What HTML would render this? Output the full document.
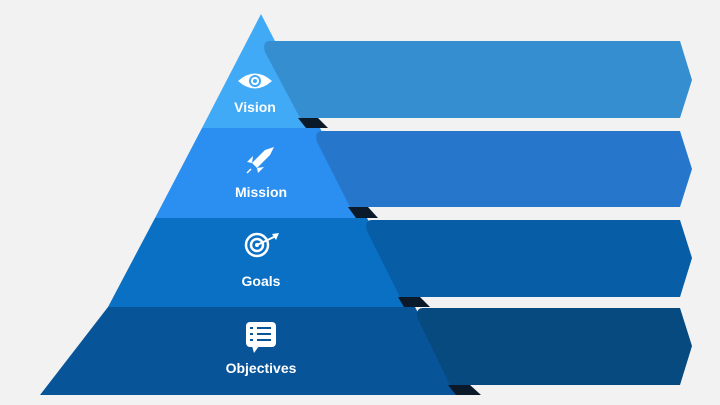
<!DOCTYPE html>
<html><head><style>
body{margin:0;background:#f2f2f2;}
svg{display:block}
text{font-family:"Liberation Sans",sans-serif;font-weight:bold;fill:#fff;font-size:14px;text-anchor:middle}
</style></head><body>
<svg width="720" height="405" viewBox="0 0 720 405">
<rect width="720" height="405" fill="#f2f2f2"/>
<!-- pyramid layers -->
<polygon points="261,14 202,128 320,128" fill="#41aaf7"/>
<polygon points="202,128 320,128 367,218 155,218" fill="#2a8ff0"/>
<polygon points="155,218 367,218 415,307 108,307" fill="#0a70c4"/>
<polygon points="108,307 415,307 462,395 40,395" fill="#075499"/>
<!-- folds -->
<polygon points="298,118 318,118 328,128 306,128" fill="#0a1a2a"/>
<polygon points="348,207 368,207 378,218 356,218" fill="#0a1a2a"/>
<polygon points="398,297 420,297 430,307 404,307" fill="#0a1a2a"/>
<polygon points="448,385 470,385 481,395 456,395" fill="#0a1a2a"/>
<!-- ribbons -->
<path d="M270,41 L680,41 L692,80 L680,118 L300,118 L265,52 Q262,41 270,41Z" fill="#348ecf"/>
<path d="M322,131 L680,131 L692,169 L680,207 L350,207 L317,142 Q314,131 322,131Z" fill="#2677cc"/>
<path d="M372,220 L680,220 L692,258 L680,297 L400,297 L367,231 Q364,220 372,220Z" fill="#075da6"/>
<path d="M423,308 L680,308 L692,346 L680,385 L450,385 L418,319 Q415,308 423,308Z" fill="#074a80"/>
<!-- icons -->
<g fill="#fff">
<path d="M238,81 Q255,66 272,81 Q255,96 238,81Z"/>
<circle cx="255" cy="81" r="6" fill="#41aaf7"/><circle cx="255" cy="81" r="4"/><circle cx="255" cy="81" r="2" fill="#41aaf7"/>
<path d="M274,147 L265,150 L252,163 L257,168 L270,155Z"/><path d="M252,163 L247,162 L253,156Z"/><path d="M257,168 L258,173 L264,167Z"/>
<line x1="251" y1="169" x2="247" y2="173" stroke="#fff" stroke-width="1.5"/>
</g>
<g fill="none" stroke="#fff" stroke-width="2.5">
<circle cx="257" cy="245" r="11"/><circle cx="257" cy="245" r="6"/>
</g>
<circle cx="257" cy="245" r="2" fill="#fff"/>
<line x1="257" y1="245" x2="276" y2="236" stroke="#fff" stroke-width="2"/>
<path d="M272,234 L279,233 L276,240Z" fill="#fff"/>
<rect x="246" y="322" width="30" height="25" rx="4" fill="#fff"/>
<path d="M252,346 L254,353 L259,346Z" fill="#fff"/>
<g stroke="#075499" stroke-width="2"><line x1="257" y1="328" x2="271" y2="328"/><line x1="257" y1="334" x2="271" y2="334"/><line x1="257" y1="340" x2="271" y2="340"/>
<line x1="250" y1="328" x2="253" y2="328"/><line x1="250" y1="334" x2="253" y2="334"/><line x1="250" y1="340" x2="253" y2="340"/></g>
<text x="255" y="112">Vision</text>
<text x="261" y="197">Mission</text>
<text x="261" y="286">Goals</text>
<text x="261" y="373">Objectives</text>
</svg>
</body></html>
